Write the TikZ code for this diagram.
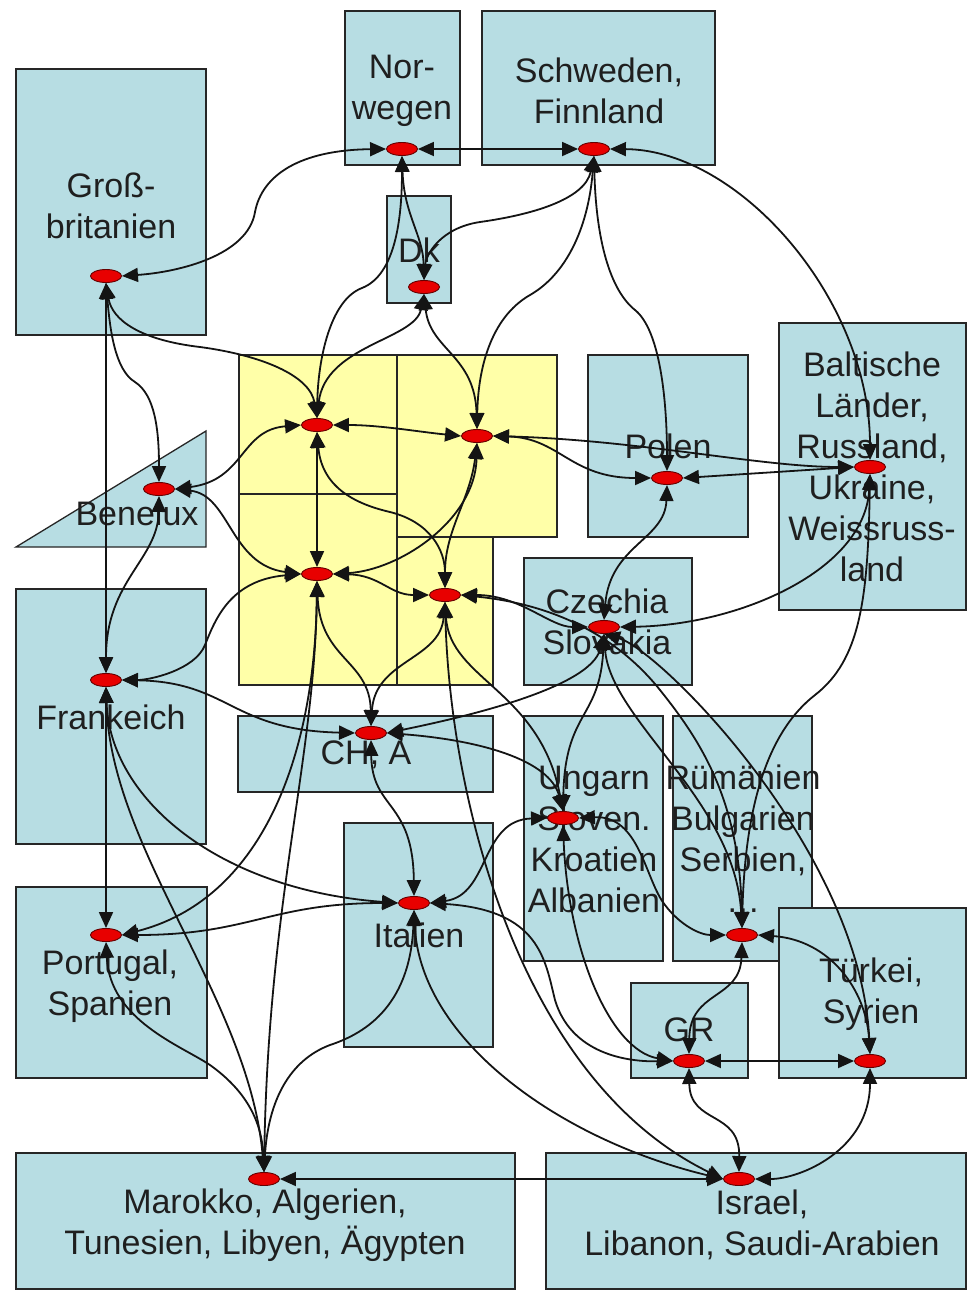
\documentclass[tikz,border=0pt]{standalone}
\usepackage{fontspec}
\setmainfont{Liberation Sans}
\usetikzlibrary{arrows.meta,shapes.geometric}
\definecolor{boxblue}{RGB}{183,221,227}
\definecolor{cellyellow}{RGB}{255,255,168}
\definecolor{hubred}{RGB}{232,0,0}
\definecolor{linkgray}{RGB}{20,20,20}
\begin{document}
\begin{tikzpicture}[x=1pt,y=-1pt,
  region/.style={fill=boxblue, draw=black!85, line width=1.3pt},
  cell/.style={fill=cellyellow, draw=black!85, line width=1.3pt},
  hub/.style={ellipse, fill=hubred, draw=black!60!red, line width=0.9pt,
    minimum width=31pt, minimum height=13pt, inner sep=0pt},
  lbl/.style={font=\fontsize{34}{41}\selectfont, align=center, inner sep=0pt, text=black!88},
  link/.style={draw=linkgray, line width=1.8pt,
    {Triangle[length=16pt,width=14pt]}-{Triangle[length=16pt,width=14pt]}}
]
\useasboundingbox (0,0) rectangle (974,1294);
\fill[white] (0,0) rectangle (974,1294);

% country regions
\path[region] (345,11) rectangle (460,165);     % Norwegen
\path[region] (482,11) rectangle (715,165);     % Schweden
\path[region] (16,69) rectangle (206,335);      % GB
\path[region] (387,196) rectangle (451,303);    % Dk
\path[region] (16,547) -- (206,431) -- (206,547) -- cycle; % Benelux
\path[region] (16,589) rectangle (206,844);     % Frankreich
\path[region] (16,887) rectangle (207,1078);    % Portugal
\path[region] (238,716) rectangle (493,792);    % CH, A
\path[region] (344,823) rectangle (493,1047);   % Italien
\path[region] (588,355) rectangle (748,537);    % Polen
\path[region] (779,323) rectangle (966,610);    % Baltikum
\path[region] (524,558) rectangle (692,685);    % Czechia
\path[region] (524,716) rectangle (663,961);    % Ungarn
\path[region] (673,716) rectangle (812,961);    % Rumaenien
\path[region] (779,908) rectangle (966,1078);   % Tuerkei
\path[region] (631,983) rectangle (748,1078);   % GR
\path[region] (16,1153) rectangle (515,1289);   % Marokko
\path[region] (546,1153) rectangle (966,1289);  % Israel

% Germany cells
\path[cell] (239,355) rectangle (397,494);
\path[cell] (239,494) rectangle (397,685);
\path[cell] (397,355) rectangle (557,537);
\path[cell] (397,537) rectangle (493,685);

% labels
\node[lbl] (t-nor)  at (402,91)  {Nor-\\wegen};
\node[lbl] (t-schw) at (599,91)  {Schweden,\\Finnland};
\node[lbl] (t-gb)   at (111,206) {Groß-\\britanien};
\node[lbl] (t-dk)   at (419,250) {Dk};
\node[lbl] (t-ben)  at (137,513) {Benelux};
\node[lbl] (t-fr)   at (111,717) {Frankeich};
\node[lbl] (t-pt)   at (110,986) {Portugal,\\Spanien};
\node[lbl] (t-ch)   at (366,755) {CH, A};
\node[lbl] (t-it)   at (419,935) {Italien};
\node[lbl] (t-pol)  at (668,446) {Polen};
\node[lbl] (t-balt) at (872,467) {Baltische\\Länder,\\Russland,\\Ukraine,\\Weissruss-\\land};
\node[lbl] (t-cz)   at (607,622) {Czechia\\Slovakia};
\node[lbl] (t-ung)  at (594,839) {Ungarn\\Sloven.\\Kroatien\\Albanien};
\node[lbl] (t-rum)  at (743,839) {Rümänien\\Bulgarien\\Serbien,\\…};
\node[lbl] (t-tr)   at (871,994) {Türkei,\\Syrien};
\node[lbl] (t-gr)   at (689,1030) {GR};
\node[lbl] (t-mar)  at (265,1225) {Marokko, Algerien,\\Tunesien, Libyen, Ägypten};
\node[lbl] (t-isr)  at (762,1225) {Israel,\\Libanon, Saudi-Arabien};

% hubs
\node[hub] (nor)  at (402,149) {};
\node[hub] (schw) at (594,149) {};
\node[hub] (gb)   at (106,276) {};
\node[hub] (dk)   at (424,287) {};
\node[hub] (y1)   at (317,425) {};
\node[hub] (y2)   at (477,436) {};
\node[hub] (y3)   at (317,574) {};
\node[hub] (y4)   at (445,595) {};
\node[hub] (ben)  at (159,489) {};
\node[hub] (fr)   at (106,680) {};
\node[hub] (pol)  at (667,478) {};
\node[hub] (balt) at (870,467) {};
\node[hub] (cz)   at (604,627) {};
\node[hub] (ch)   at (371,733) {};
\node[hub] (it)   at (414,903) {};
\node[hub] (pt)   at (106,935) {};
\node[hub] (ung)  at (563,818) {};
\node[hub] (rum)  at (742,935) {};
\node[hub] (gr)   at (689,1061) {};
\node[hub] (tr)   at (870,1061) {};
\node[hub] (mar)  at (264,1179) {};
\node[hub] (isr)  at (739,1179) {};

% straight links
\path[link] (nor.east) -- (schw.west);
\path[link] (gb.south) -- (fr.north);
\path[link] (fr.south) -- (pt.north);
\path[link] (y1.south) -- (y3.north);
\path[link] (pol.east) -- (balt.west);
\path[link] (gr.east) -- (tr.west);
\path[link] (mar.east) -- (isr.west);

% north
\path[link] (nor.west) .. controls (300,150) and (262,175) .. (255,212) .. controls (248,255) and (180,272) .. (gb.east);
\path[link] (nor.south) .. controls (404,215) and (423,235) .. (dk.north);
\path[link] (nor.south) .. controls (402,220) and (395,275) .. (362,288) .. controls (330,300) and (318,360) .. (y1.north);
\path[link] (schw.south) .. controls (585,200) and (530,215) .. (480,222) .. controls (440,228) and (426,255) .. (dk.north);
\path[link] (schw.south) .. controls (588,230) and (565,275) .. (530,295) .. controls (490,318) and (478,370) .. (y2.north);
\path[link] (schw.south) .. controls (596,240) and (610,290) .. (635,310) .. controls (660,330) and (667,400) .. (pol.north);
\path[link] (schw.east) .. controls (740,150) and (870,300) .. (balt.north);
\path[link] (gb.south) .. controls (112,320) and (140,340) .. (200,347) .. controls (260,355) and (310,375) .. (y1.north);
\path[link] (gb.south) .. controls (110,330) and (115,370) .. (135,382) .. controls (155,395) and (159,430) .. (ben.north);
\path[link] (dk.south) .. controls (415,340) and (325,345) .. (y1.north);
\path[link] (dk.south) .. controls (430,350) and (475,355) .. (y2.north);

% Germany
\path[link] (y1.east) .. controls (380,425) and (420,432) .. (y2.west);
\path[link] (y1.west) .. controls (240,430) and (245,480) .. (ben.east);
\path[link] (y1.south) .. controls (322,490) and (360,505) .. (390,512) .. controls (430,522) and (445,550) .. (y4.north);
\path[link] (y2.south) .. controls (475,520) and (400,570) .. (y3.east);
\path[link] (y2.south) .. controls (470,500) and (445,530) .. (y4.north);
\path[link] (y2.east) .. controls (560,438) and (570,478) .. (pol.west);
\path[link] (y2.east) .. controls (640,440) and (760,467) .. (balt.west);
\path[link] (y3.east) .. controls (380,575) and (390,595) .. (y4.west);
\path[link] (ben.east) .. controls (230,495) and (230,565) .. (y3.west);
\path[link] (y3.west) .. controls (230,580) and (215,620) .. (205,645) .. controls (195,670) and (150,680) .. (fr.east);
\path[link] (ben.south) .. controls (158,560) and (106,580) .. (fr.north);

% east
\path[link] (pol.south) .. controls (665,540) and (610,545) .. (cz.north);
\path[link] (balt.south) .. controls (865,570) and (740,625) .. (cz.east);
\path[link] (balt.south) .. controls (868,600) and (860,660) .. (815,695) .. controls (770,730) and (745,800) .. (rum.north);
\path[link] (y4.east) .. controls (520,595) and (550,627) .. (cz.west);
\path[link] (y4.east) .. controls (560,605) and (620,640) .. (660,690) .. controls (700,740) and (740,800) .. (rum.north);
\path[link] (cz.south) .. controls (660,650) and (860,850) .. (tr.north);
\path[link] (cz.south) .. controls (610,720) and (735,800) .. (rum.north);
\path[link] (cz.south) .. controls (600,720) and (565,710) .. (ung.north);
\path[link] (cz.south) .. controls (590,690) and (450,720) .. (ch.east);

% west and centre
\path[link] (fr.east) .. controls (230,682) and (230,730) .. (ch.west);
\path[link] (fr.south) .. controls (110,800) and (220,890) .. (it.west);
\path[link] (fr.south) .. controls (110,850) and (250,1000) .. (mar.north);
\path[link] (pt.east) .. controls (260,900) and (315,760) .. (y3.south);
\path[link] (pt.east) .. controls (250,935) and (270,903) .. (it.west);
\path[link] (pt.south) .. controls (110,1020) and (180,1045) .. (210,1065) .. controls (245,1090) and (262,1120) .. (mar.north);
\path[link] (y3.south) .. controls (315,760) and (268,900) .. (mar.north);
\path[link] (y3.south) .. controls (320,660) and (370,660) .. (ch.north);
\path[link] (y4.south) .. controls (440,660) and (375,660) .. (ch.north);
\path[link] (y4.south) .. controls (450,680) and (540,690) .. (ung.north);
\path[link] (y4.south) .. controls (450,800) and (520,1080) .. (isr.west);
\path[link] (ch.east) .. controls (480,740) and (550,760) .. (ung.north);
\path[link] (ch.south) .. controls (372,810) and (413,800) .. (it.north);

% south
\path[link] (it.east) .. controls (490,895) and (480,820) .. (ung.west);
\path[link] (it.east) .. controls (540,910) and (545,960) .. (555,1000) .. controls (570,1050) and (620,1062) .. (gr.west);
\path[link] (it.south) .. controls (410,1010) and (360,1035) .. (330,1045) .. controls (290,1060) and (268,1100) .. (mar.north);
\path[link] (it.south) .. controls (420,1040) and (560,1140) .. (isr.west);
\path[link] (ung.east) .. controls (640,815) and (645,880) .. (665,905) .. controls (680,925) and (700,935) .. (rum.west);
\path[link] (ung.south) .. controls (568,950) and (610,1050) .. (gr.west);
\path[link] (rum.east) .. controls (830,940) and (866,990) .. (tr.north);
\path[link] (rum.south) .. controls (740,1000) and (690,990) .. (gr.north);
\path[link] (gr.south) .. controls (690,1125) and (740,1110) .. (isr.north);
\path[link] (tr.south) .. controls (870,1150) and (800,1179) .. (isr.east);
\end{tikzpicture}
\end{document}
